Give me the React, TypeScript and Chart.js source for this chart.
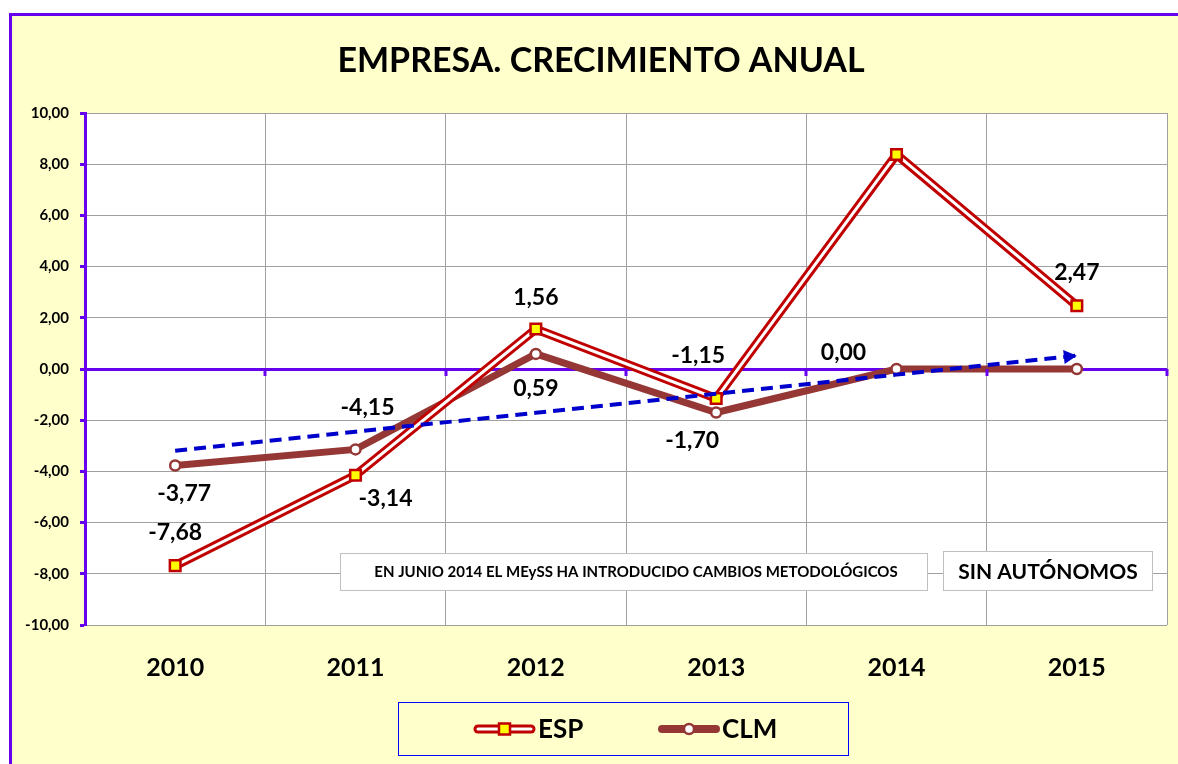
import React, { useEffect, useRef } from 'react';
import { Chart, registerables } from 'chart.js';

Chart.register(...registerables);

const years = ['2010', '2011', '2012', '2013', '2014', '2015'];
const espValues = [-7.68, -4.15, 1.56, -1.15, 8.38, 2.47];
const clmValues = [-3.77, -3.14, 0.59, -1.7, 0.0, 0.0];
const trendValues = [-3.19, -2.45, -1.71, -0.97, -0.22, 0.52];
const yMin = -10;
const yMax = 10;
const yStep = 2;
const chartTitle = 'EMPRESA. CRECIMIENTO ANUAL';
const noteMethod = 'EN JUNIO 2014 EL MEySS HA INTRODUCIDO CAMBIOS METODOLÓGICOS';
const noteScope = 'SIN AUTÓNOMOS';
const espName = 'ESP';
const clmName = 'CLM';
// label placement (dx, dy in px relative to the point); null = no label
const espLabelOffsets: ([number, number] | null)[] = [[0, -33], [12, -68], [0, -31], [-18, -43], null, [0, -33]];
const clmLabelOffsets: ([number, number] | null)[] = [[9, 28], [30, 49], [0, 35], [-24, 28], [-53, -16], null];

const FONT = "Lato, 'DejaVu Sans', sans-serif";
const YELLOW = '#FFFFCC';
const PURPLE = '#6600EE';
const GRID = '#A0A0A0';
const RED = '#C00000';
const BROWN = '#953735';
const BLUE = '#0000CC';

const fmt = (v: number) => v.toFixed(2).replace('.', ',');

const decorPlugin = {
  id: 'decor',
  beforeDraw(chart: any) {
    const { ctx, width, height, chartArea } = chart;
    ctx.save();
    ctx.fillStyle = '#FFFFFF';
    ctx.fillRect(0, 0, width, height);
    ctx.fillStyle = YELLOW;
    ctx.fillRect(11, 15, width - 11, height - 15);
    ctx.strokeStyle = PURPLE;
    ctx.lineWidth = 3;
    ctx.beginPath();
    ctx.moveTo(10.5, height);
    ctx.lineTo(10.5, 14.5);
    ctx.lineTo(width, 14.5);
    ctx.stroke();
    ctx.fillStyle = '#FFFFFF';
    ctx.fillRect(chartArea.left, chartArea.top, chartArea.right - chartArea.left, chartArea.bottom - chartArea.top);
    // title
    ctx.fillStyle = '#000000';
    ctx.font = `bold 34px ${FONT}`;
    ctx.textAlign = 'center';
    ctx.textBaseline = 'middle';
    ctx.fillText(chartTitle, 601, 61);
    ctx.restore();
  },
  afterDatasetsDraw(chart: any) {
    const { ctx, scales } = chart;
    const x = scales.x;
    const y = scales.y;
    ctx.save();
    // purple tick marks on the zero line at category boundaries
    const y0 = y.getPixelForValue(0);
    ctx.strokeStyle = PURPLE;
    ctx.lineWidth = 3;
    for (let i = 1; i <= years.length; i++) {
      const px = Math.round((x.getPixelForValue(i - 1) + (i < years.length ? x.getPixelForValue(i) : x.getPixelForValue(i - 1) * 2 - x.getPixelForValue(i - 2))) / 2);
      ctx.beginPath();
      ctx.moveTo(px, y0);
      ctx.lineTo(px, y0 + 7);
      ctx.stroke();
    }
    // trend arrow head
    const meta = chart.getDatasetMeta(0);
    const pts = meta.data;
    const p1 = pts[pts.length - 2];
    const p2 = pts[pts.length - 1];
    const ang = Math.atan2(p2.y - p1.y, p2.x - p1.x);
    const len = 13;
    const hw = 7;
    ctx.fillStyle = BLUE;
    ctx.beginPath();
    ctx.moveTo(p2.x, p2.y);
    ctx.lineTo(p2.x - len * Math.cos(ang) + hw * Math.sin(ang), p2.y - len * Math.sin(ang) - hw * Math.cos(ang));
    ctx.lineTo(p2.x - len * Math.cos(ang) - hw * Math.sin(ang), p2.y - len * Math.sin(ang) + hw * Math.cos(ang));
    ctx.closePath();
    ctx.fill();
    // data labels
    ctx.fillStyle = '#000000';
    ctx.font = `bold 23px ${FONT}`;
    ctx.textAlign = 'center';
    ctx.textBaseline = 'middle';
    const espMeta = chart.getDatasetMeta(1);
    espValues.forEach((v, i) => {
      const off = espLabelOffsets[i];
      if (!off) return;
      const p = espMeta.data[i];
      ctx.fillText(fmt(v), p.x + off[0], p.y + off[1]);
    });
    const clmMeta = chart.getDatasetMeta(3);
    clmValues.forEach((v, i) => {
      const off = clmLabelOffsets[i];
      if (!off) return;
      const p = clmMeta.data[i];
      ctx.fillText(fmt(v), p.x + off[0], p.y + off[1]);
    });
    ctx.restore();
  },
  afterDraw(chart: any) {
    const { ctx } = chart;
    ctx.save();
    // note boxes
    ctx.fillStyle = '#FFFFFF';
    ctx.strokeStyle = '#BFBFBF';
    ctx.lineWidth = 1;
    ctx.fillRect(340, 553, 587, 37);
    ctx.strokeRect(340.5, 553.5, 587, 37);
    ctx.fillRect(943, 551, 209, 39);
    ctx.strokeRect(943.5, 551.5, 209, 39);
    ctx.fillStyle = '#000000';
    ctx.textAlign = 'center';
    ctx.textBaseline = 'middle';
    ctx.font = `bold 15px ${FONT}`;
    ctx.fillText(noteMethod, 636, 572);
    ctx.font = `bold 21px ${FONT}`;
    ctx.fillText(noteScope, 1048, 572);
    // legend
    ctx.fillStyle = YELLOW;
    ctx.fillRect(398, 702, 450, 54);
    ctx.strokeStyle = '#0000FF';
    ctx.lineWidth = 1;
    ctx.strokeRect(398.5, 702.5, 450, 53);
    const ly = 729;
    ctx.lineCap = 'round';
    ctx.strokeStyle = RED;
    ctx.lineWidth = 9;
    ctx.beginPath();
    ctx.moveTo(478, ly);
    ctx.lineTo(531, ly);
    ctx.stroke();
    ctx.strokeStyle = '#FFFFFF';
    ctx.lineWidth = 3;
    ctx.beginPath();
    ctx.moveTo(478, ly);
    ctx.lineTo(531, ly);
    ctx.stroke();
    ctx.fillStyle = '#FFFF00';
    ctx.strokeStyle = RED;
    ctx.lineWidth = 2.5;
    ctx.fillRect(499, ly - 5.5, 11, 11);
    ctx.strokeRect(499, ly - 5.5, 11, 11);
    ctx.strokeStyle = BROWN;
    ctx.lineWidth = 8;
    ctx.beginPath();
    ctx.moveTo(662, ly);
    ctx.lineTo(716, ly);
    ctx.stroke();
    ctx.fillStyle = '#FFFFFF';
    ctx.lineWidth = 2.5;
    ctx.beginPath();
    ctx.arc(689, ly, 5, 0, Math.PI * 2);
    ctx.fill();
    ctx.stroke();
    ctx.fillStyle = '#000000';
    ctx.font = `bold 26px ${FONT}`;
    ctx.textAlign = 'left';
    ctx.fillText(espName, 538, ly + 1);
    ctx.fillText(clmName, 722, ly + 1);
    ctx.restore();
  },
};

export default function App() {
  const ref = useRef<HTMLCanvasElement | null>(null);
  useEffect(() => {
    document.body.style.margin = '0';
    const canvas = ref.current;
    if (!canvas) return;
    const chart = new Chart(canvas, {
      type: 'line',
      data: {
        labels: years,
        datasets: [
          {
            label: 'trend',
            data: trendValues,
            borderColor: BLUE,
            borderWidth: 4,
            borderDash: [12, 7],
            pointRadius: 0,
            fill: false,
            tension: 0,
          },
          {
            label: espName,
            data: espValues,
            borderColor: '#FFFFFF',
            borderWidth: 3,
            pointStyle: 'rect',
            pointRadius: 7.5,
            pointBackgroundColor: '#FFFF00',
            pointBorderColor: RED,
            pointBorderWidth: 2.5,
            fill: false,
            tension: 0,
          },
          {
            label: espName + ' outline',
            data: espValues,
            borderColor: RED,
            borderWidth: 9,
            pointRadius: 0,
            fill: false,
            tension: 0,
          },
          {
            label: clmName,
            data: clmValues,
            borderColor: BROWN,
            borderWidth: 7,
            pointStyle: 'circle',
            pointRadius: 5,
            pointBackgroundColor: '#FFFFFF',
            pointBorderColor: BROWN,
            pointBorderWidth: 2.5,
            fill: false,
            tension: 0,
          },
        ],
      },
      options: {
        responsive: false,
        animation: false,
        devicePixelRatio: 1,
        layout: { padding: { top: 113, left: 0, right: 11, bottom: 79 } },
        plugins: { legend: { display: false }, tooltip: { enabled: false }, title: { display: false } },
        scales: {
          x: {
            type: 'category',
            offset: true,
            grid: { offset: true, color: GRID, lineWidth: 1, drawTicks: false },
            border: { display: false },
            ticks: { color: '#000000', font: { family: FONT, size: 25, weight: 'bold' }, padding: 28 },
            afterFit: (s: any) => { s.height = 60; },
          },
          y: {
            min: yMin,
            max: yMax,
            ticks: {
              stepSize: yStep,
              color: '#000000',
              padding: 11,
              font: { family: FONT, size: 15, weight: 'bold' },
              callback: (v: any) => fmt(Number(v)),
            },
            grid: {
              color: (c: any) => (c.tick && c.tick.value === 0 ? PURPLE : GRID),
              lineWidth: (c: any) => (c.tick && c.tick.value === 0 ? 3 : 1),
              tickColor: PURPLE,
              tickWidth: 3,
              tickLength: 5,
            },
            border: { display: true, color: PURPLE, width: 3 },
            afterFit: (s: any) => { s.width = 85; },
          },
        },
      },
      plugins: [decorPlugin],
    });
    return () => chart.destroy();
  }, []);
  return <canvas ref={ref} width={1178} height={764} style={{ display: 'block', width: 1178, height: 764 }} />;
}
